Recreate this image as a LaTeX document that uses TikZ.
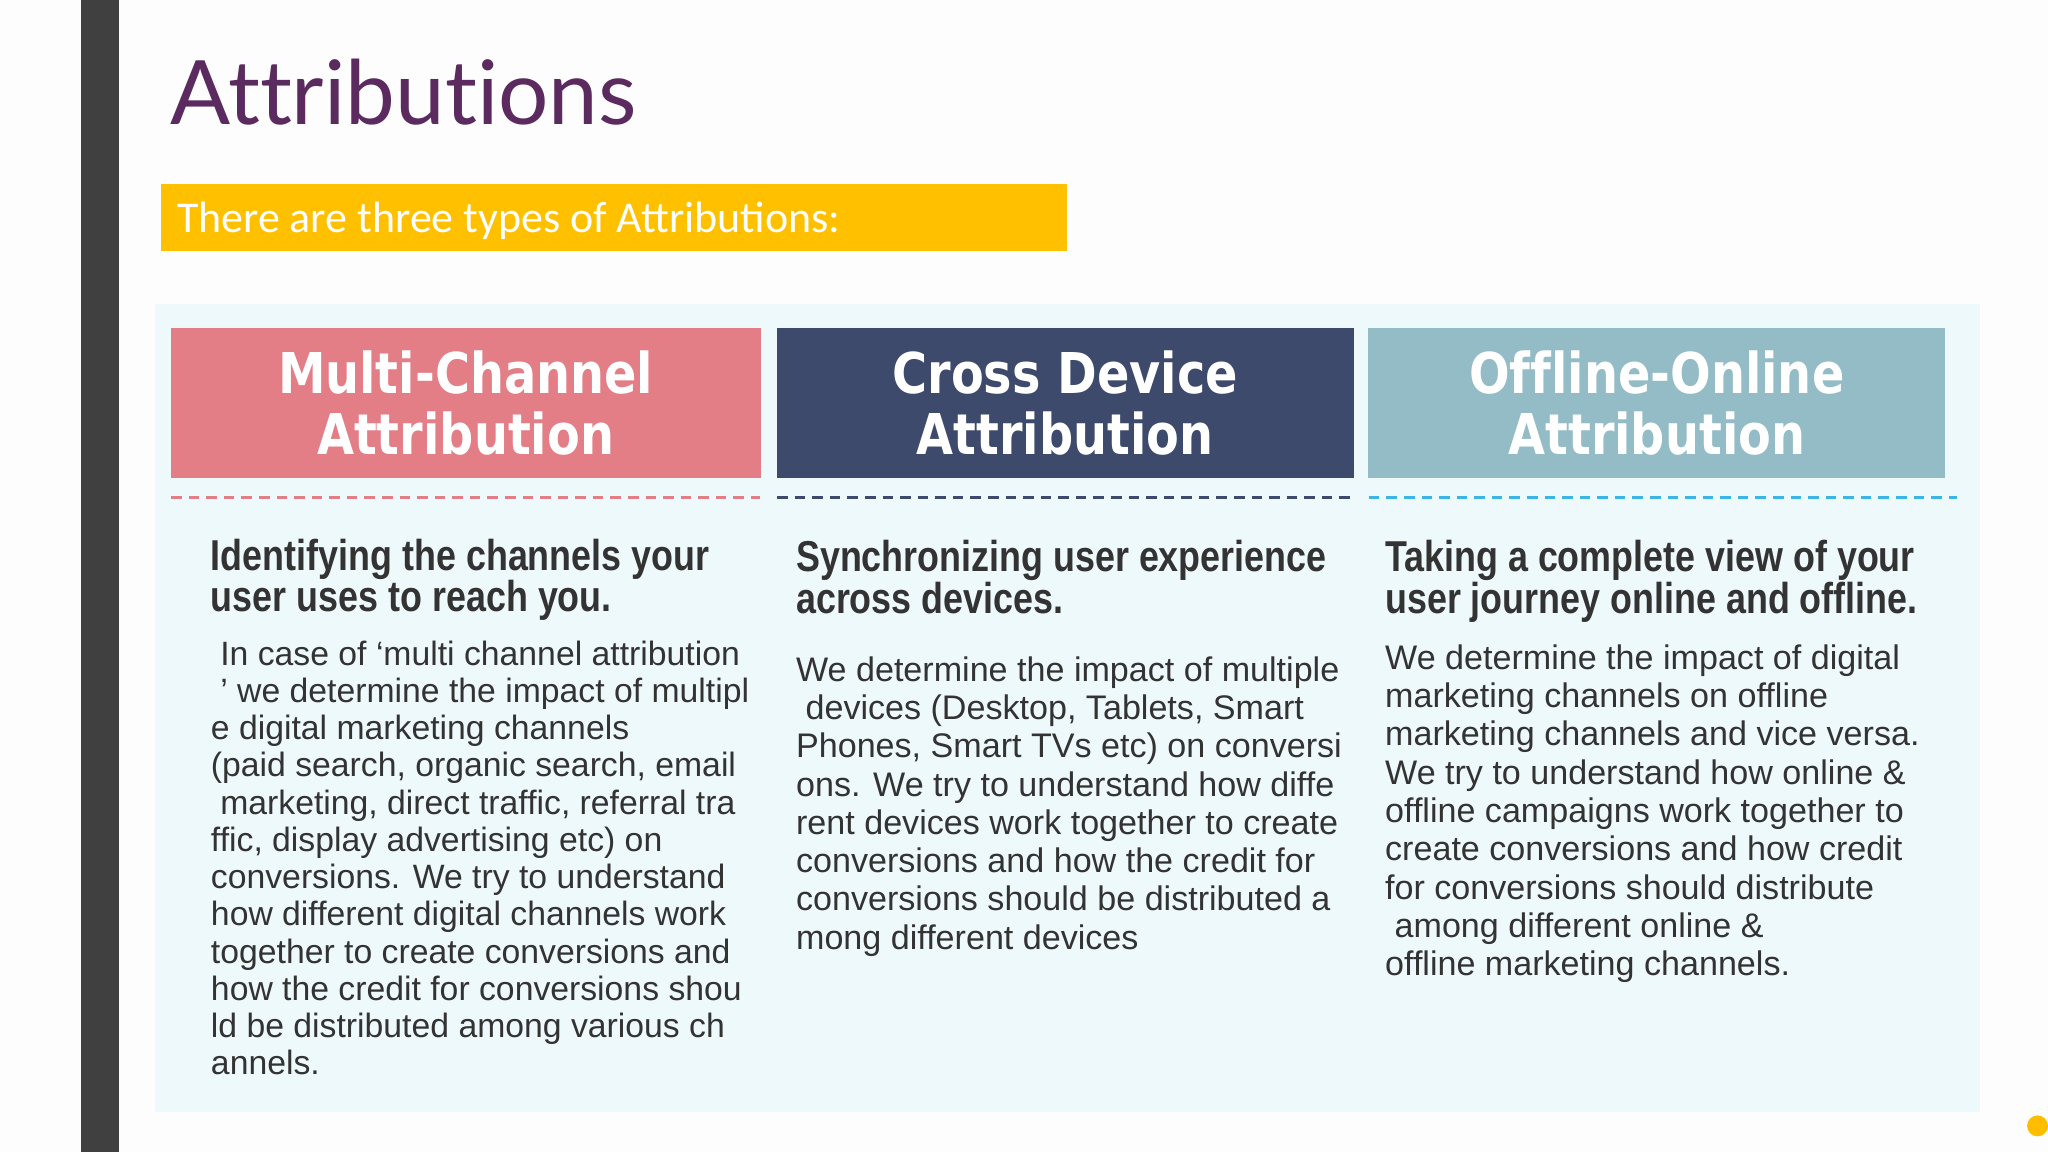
\documentclass[tikz,border=0pt]{standalone}
\usepackage{fontspec}
\setmainfont{Liberation Sans}
\newfontfamily\titlef[Ligatures=NoCommon]{Lato}
\newfontfamily\headf[FakeStretch=0.85,Ligatures=NoCommon]{DejaVu Sans}
\newfontfamily\subf[FakeStretch=0.83]{Liberation Sans}
\newfontfamily\bannerf{Carlito}
\definecolor{pagebg}{HTML}{FDFDFE}
\definecolor{barc}{HTML}{404040}
\definecolor{panel}{HTML}{EEF9FC}
\definecolor{pinkc}{HTML}{E37D86}
\definecolor{navyc}{HTML}{3E4A6B}
\definecolor{tealc}{HTML}{93BCC6}
\definecolor{bluedash}{HTML}{3CB4E5}
\definecolor{yellowc}{HTML}{FFC000}
\definecolor{purplec}{HTML}{5B2A5E}
\definecolor{txt}{HTML}{333333}
\tikzset{
 head/.style={minimum width=#1, minimum height=42.8pt, inner sep=0, text=white,
   font=\headf\bfseries\fontsize{16}{17.5}\selectfont, align=center},
 body/.style={anchor=north west, inner sep=0, align=left, text=txt},
 sub/.style={anchor=north west, inner sep=0, align=left, text=txt,
   font=\subf\bfseries\fontsize{12.3}{11.9}\selectfont},
 sepline/.style={dash pattern=on 3pt off 2pt, line width=1pt}
}
\begin{document}
\begin{tikzpicture}[x=0.0130612cm,y=-0.0130612cm]
\fill[pagebg] (0,0) rectangle (1568,882);
\useasboundingbox (0,0) rectangle (1568,882);
\fill[barc] (62,0) rectangle (91,882);
\node[anchor=base west, inner sep=0, text=purplec, font=\titlef\fontsize{25.3}{28}\selectfont] (title) at (130,95) {Attributions};
\fill[yellowc] (123,141) rectangle (817,192);
\node[anchor=base west, inner sep=0, text=white, font=\bannerf\fontsize{12.5}{14}\selectfont] (banner) at (135,178) {There are three types of Attributions:};
\fill[panel] (119,233) rectangle (1516,851);
\node[head=167.8pt, fill=pinkc] (h1) at (356.5,308.5) {Multi-Channel\\Attribution};
\node[head=164.1pt, fill=navyc] (h2) at (815.5,308.5) {Cross Device\\Attribution};
\node[head=164.1pt, fill=tealc] (h3) at (1268.5,308.5) {Offline-Online\\Attribution};
\draw[sepline, pinkc] (131,381) -- (582,381);
\draw[sepline, navyc] (595,381) -- (1036,381);
\draw[sepline, bluedash] (1048,381) -- (1498,381);
\node[sub] (s1) at (161,412) {Identifying the channels your\\user uses to reach you.};
\node[sub] (s2) at (609,413) {Synchronizing user experience\\across devices.};
\node[sub] (s3) at (1060,413) {Taking a complete view of your\\user journey online and offline.};
\node[body, font=\fontsize{9.6}{10.6}\selectfont] (b1) at (161,490) {\ In case of ‘multi channel attribution\\\ ’ we determine the impact of multipl\\e digital marketing channels\\(paid search, organic search, email\\\ marketing, direct traffic, referral tra\\ffic, display advertising etc) on\\conversions. We try to understand\\how different digital channels work\\together to create conversions and\\how the credit for conversions shou\\ld be distributed among various ch\\annels.};
\node[body, font=\fontsize{9.7}{10.9}\selectfont] (b2) at (609,502) {We determine the impact of multiple\\\ devices (Desktop, Tablets, Smart\\Phones, Smart TVs etc) on conversi\\ons. We try to understand how diffe\\rent devices work together to create\\conversions and how the credit for\\conversions should be distributed a\\mong different devices};
\node[body, font=\fontsize{9.7}{10.9}\selectfont] (b3) at (1060,493) {We determine the impact of digital\\marketing channels on offline\\marketing channels and vice versa.\\We try to understand how online \&\\offline campaigns work together to\\create conversions and how credit\\for conversions should distribute\\\ among different online \&\\offline marketing channels.};
\fill[yellowc!95!orange] (1560,862) circle (8);
\end{tikzpicture}
\end{document}
